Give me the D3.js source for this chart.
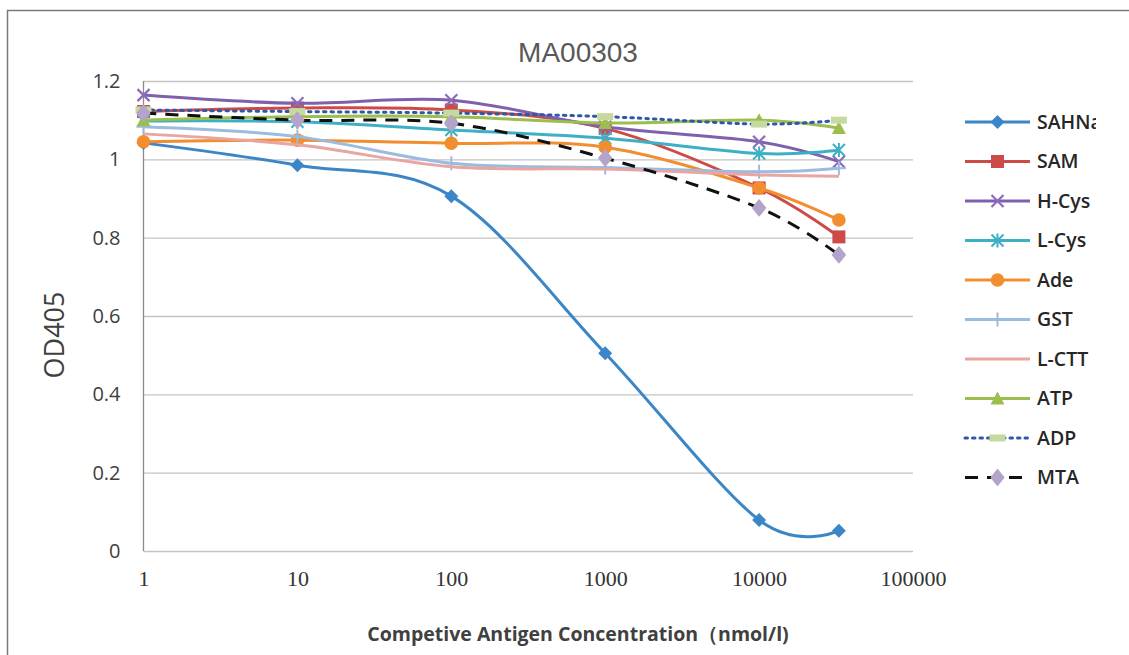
<!DOCTYPE html>
<html>
<head>
<meta charset="utf-8">
<title>MA00303</title>
<script src="https://cdn.jsdelivr.net/npm/d3@7/dist/d3.min.js"></script>
<style>
  body { margin: 0; background: #fff; }
  svg { display: block; }
</style>
</head>
<body>
<div id="chart"></div>
<script>
// data
const concentrations = [1, 10, 100, 1000, 10000, 33000];
const xTicks = [1, 10, 100, 1000, 10000, 100000];
const yTicks = [0, 0.2, 0.4, 0.6, 0.8, 1, 1.2];
const seriesNames = ["SAHNa", "SAM", "H-Cys", "L-Cys", "Ade", "GST", "L-CTT", "ATP", "ADP", "MTA"];

const sahna = [1.042, 0.985, 0.906, 0.505, 0.079, 0.052];
const sam   = [1.122, 1.131, 1.126, 1.079, 0.927, 0.802];
const hcys  = [1.164, 1.143, 1.151, 1.083, 1.045, 0.994];
const lcys  = [1.098, 1.096, 1.075, 1.054, 1.015, 1.024];
const ade   = [1.045, 1.049, 1.041, 1.031, 0.927, 0.845];
const gst   = [1.083, 1.058, 0.990, 0.979, 0.968, 0.977];
const lctt  = [1.065, 1.037, 0.981, 0.975, 0.960, 0.957];
const atp   = [1.100, 1.109, 1.109, 1.093, 1.100, 1.080];
const adp   = [1.126, 1.122, 1.118, 1.109, 1.090, 1.100];
const mta   = [1.118, 1.100, 1.092, 1.003, 0.876, 0.756];

const values = [sahna, sam, hcys, lcys, ade, gst, lctt, atp, adp, mta];

// look of each series
const styles = [
  { color: "#3b86c6", marker: "diamond", mcolor: "#3b86c6" },
  { color: "#cd4b47", marker: "square",  mcolor: "#cd4b47" },
  { color: "#7f60ad", marker: "x",       mcolor: "#8a6cba" },
  { color: "#3eb0c6", marker: "star",    mcolor: "#3eb0c6" },
  { color: "#f28d30", marker: "circle",  mcolor: "#f28d30" },
  { color: "#9bbbe0", marker: "plus",    mcolor: "#9bbbe0" },
  { color: "#e8a5a2", marker: "none",    mcolor: "#e8a5a2" },
  { color: "#9cbd4f", marker: "triangle", mcolor: "#9cbd4f" },
  { color: "#2f58a8", marker: "dash",    mcolor: "#c6da9f", dash: "2.5,5" },
  { color: "#111111", marker: "blob",    mcolor: "#b4a4cb", dash: "13,9" }
];

const W = 1129, H = 655;
const svg = d3.select("#chart").append("svg").attr("width", W).attr("height", H);

// outer frame (runs off to the right and bottom)
svg.append("rect")
  .attr("x", 7.5).attr("y", 10.5).attr("width", 1300).attr("height", 800)
  .attr("fill", "#fff").attr("stroke", "#7a7a7a").attr("stroke-width", 1.5);

const x = d3.scaleLog().domain([1, 100000]).range([143.5, 913]);
const y = d3.scaleLinear().domain([0, 1.2]).range([551, 81]);

// gridlines
svg.append("g")
  .attr("transform", "translate(143.5,0)")
  .call(d3.axisLeft(y).tickValues(yTicks).tickSize(-(913 - 143.5)).tickFormat(""))
  .call(g => g.select(".domain").remove())
  .call(g => g.selectAll("line").attr("stroke", "#c4c4c4").attr("stroke-width", 1.3));

// left axis line
svg.append("line")
  .attr("x1", 143.5).attr("x2", 143.5).attr("y1", y(1.2)).attr("y2", y(0))
  .attr("stroke", "#8a8a8a").attr("stroke-width", 1.3);

// y tick labels
svg.append("g")
  .attr("transform", "translate(143.5,0)")
  .call(d3.axisLeft(y).tickValues(yTicks).tickSize(0).tickPadding(23).tickFormat(d3.format("~g")))
  .call(g => g.select(".domain").remove())
  .call(g => g.selectAll("text")
    .attr("font-family", "'Open Sans', sans-serif").attr("font-size", 20).attr("fill", "#404040"));

// x tick labels
svg.append("g")
  .attr("transform", "translate(0," + y(0) + ")")
  .call(d3.axisBottom(x).tickValues(xTicks).tickSize(0).tickPadding(19).tickFormat(d3.format("d")))
  .call(g => g.select(".domain").remove())
  .call(g => g.selectAll("text")
    .attr("font-family", "'Liberation Serif', serif").attr("font-size", 22).attr("fill", "#333"));

// title and axis titles
svg.append("text")
  .attr("x", 578).attr("y", 62).attr("text-anchor", "middle")
  .attr("font-family", "'Liberation Sans', Arial, sans-serif").attr("font-size", 28).attr("fill", "#595959")
  .text("MA00303");

svg.append("text")
  .attr("transform", "translate(64,335) rotate(-90)").attr("text-anchor", "middle")
  .attr("font-family", "'Open Sans', sans-serif").attr("font-size", 27).attr("fill", "#404040")
  .text("OD405");

svg.append("text")
  .attr("x", 578).attr("y", 641).attr("text-anchor", "middle")
  .attr("font-family", "'Open Sans', sans-serif").attr("font-weight", 700).attr("font-size", 19.5).attr("fill", "#404040")
  .text("Competive Antigen Concentration（nmol/l)");

// marker drawing
function drawMarker(g, type, cx, cy, col) {
  if (type === "diamond") {
    g.append("path").attr("d", `M${cx},${cy - 7}L${cx + 7},${cy}L${cx},${cy + 7}L${cx - 7},${cy}Z`).attr("fill", col);
  } else if (type === "square") {
    g.append("rect").attr("x", cx - 6.5).attr("y", cy - 6.5).attr("width", 13).attr("height", 13).attr("fill", col);
  } else if (type === "x") {
    g.append("path").attr("d", `M${cx - 6},${cy - 6}L${cx + 6},${cy + 6}M${cx - 6},${cy + 6}L${cx + 6},${cy - 6}`)
      .attr("stroke", col).attr("stroke-width", 2.2).attr("fill", "none");
  } else if (type === "star") {
    g.append("path").attr("d", `M${cx - 6},${cy - 6}L${cx + 6},${cy + 6}M${cx - 6},${cy + 6}L${cx + 6},${cy - 6}M${cx},${cy - 7}L${cx},${cy + 7}`)
      .attr("stroke", col).attr("stroke-width", 2).attr("fill", "none");
  } else if (type === "circle") {
    g.append("circle").attr("cx", cx).attr("cy", cy).attr("r", 6.8).attr("fill", col);
  } else if (type === "plus") {
    g.append("path").attr("d", `M${cx - 7},${cy}L${cx + 7},${cy}M${cx},${cy - 7}L${cx},${cy + 7}`)
      .attr("stroke", col).attr("stroke-width", 2).attr("fill", "none");
  } else if (type === "triangle") {
    g.append("path").attr("d", `M${cx},${cy - 7}L${cx + 7},${cy + 6}L${cx - 7},${cy + 6}Z`).attr("fill", col);
  } else if (type === "dash") {
    g.append("rect").attr("x", cx - 8).attr("y", cy - 3.5).attr("width", 16).attr("height", 7).attr("fill", col);
  } else if (type === "blob") {
    g.append("path").attr("d", `M${cx},${cy - 7.5}L${cx + 6},${cy}L${cx},${cy + 7.5}L${cx - 6},${cy}Z`)
      .attr("fill", col).attr("stroke", col).attr("stroke-width", 2).attr("stroke-linejoin", "round");
  }
}

const line = d3.line()
  .x(d => x(d[0]))
  .y(d => y(d[1]))
  .curve(d3.curveCatmullRom.alpha(0));

const plot = svg.append("g");
values.forEach((vals, i) => {
  const st = styles[i];
  const pts = concentrations.map((c, j) => [c, vals[j]]);
  const g = plot.append("g");
  g.append("path")
    .attr("d", line(pts))
    .attr("fill", "none")
    .attr("stroke", st.color)
    .attr("stroke-width", 3)
    .attr("stroke-linecap", i === 8 ? "round" : "butt")
    .attr("stroke-dasharray", st.dash || null);
  pts.forEach(p => drawMarker(g, st.marker, x(p[0]), y(p[1]), st.mcolor));
});

// legend, clipped on the right like the original
svg.append("clipPath").attr("id", "legclip")
  .append("rect").attr("x", 940).attr("y", 90).attr("width", 156).attr("height", 420);

const legend = svg.append("g").attr("clip-path", "url(#legclip)");
seriesNames.forEach((name, i) => {
  const st = styles[i];
  const ly = 122 + i * 39.5;
  const g = legend.append("g");
  g.append("line")
    .attr("x1", 965).attr("x2", 1030).attr("y1", ly).attr("y2", ly)
    .attr("stroke", st.color).attr("stroke-width", 3)
    .attr("stroke-linecap", i === 8 ? "round" : "butt")
    .attr("stroke-dasharray", st.dash || null);
  drawMarker(g, st.marker, 997.5, ly, st.mcolor);
  g.append("text")
    .attr("x", 1037).attr("y", ly).attr("dy", "0.35em")
    .attr("font-family", "'Open Sans', sans-serif").attr("font-weight", 600).attr("font-size", 19.5).attr("fill", "#262626")
    .text(name);
});
</script>
</body>
</html>
